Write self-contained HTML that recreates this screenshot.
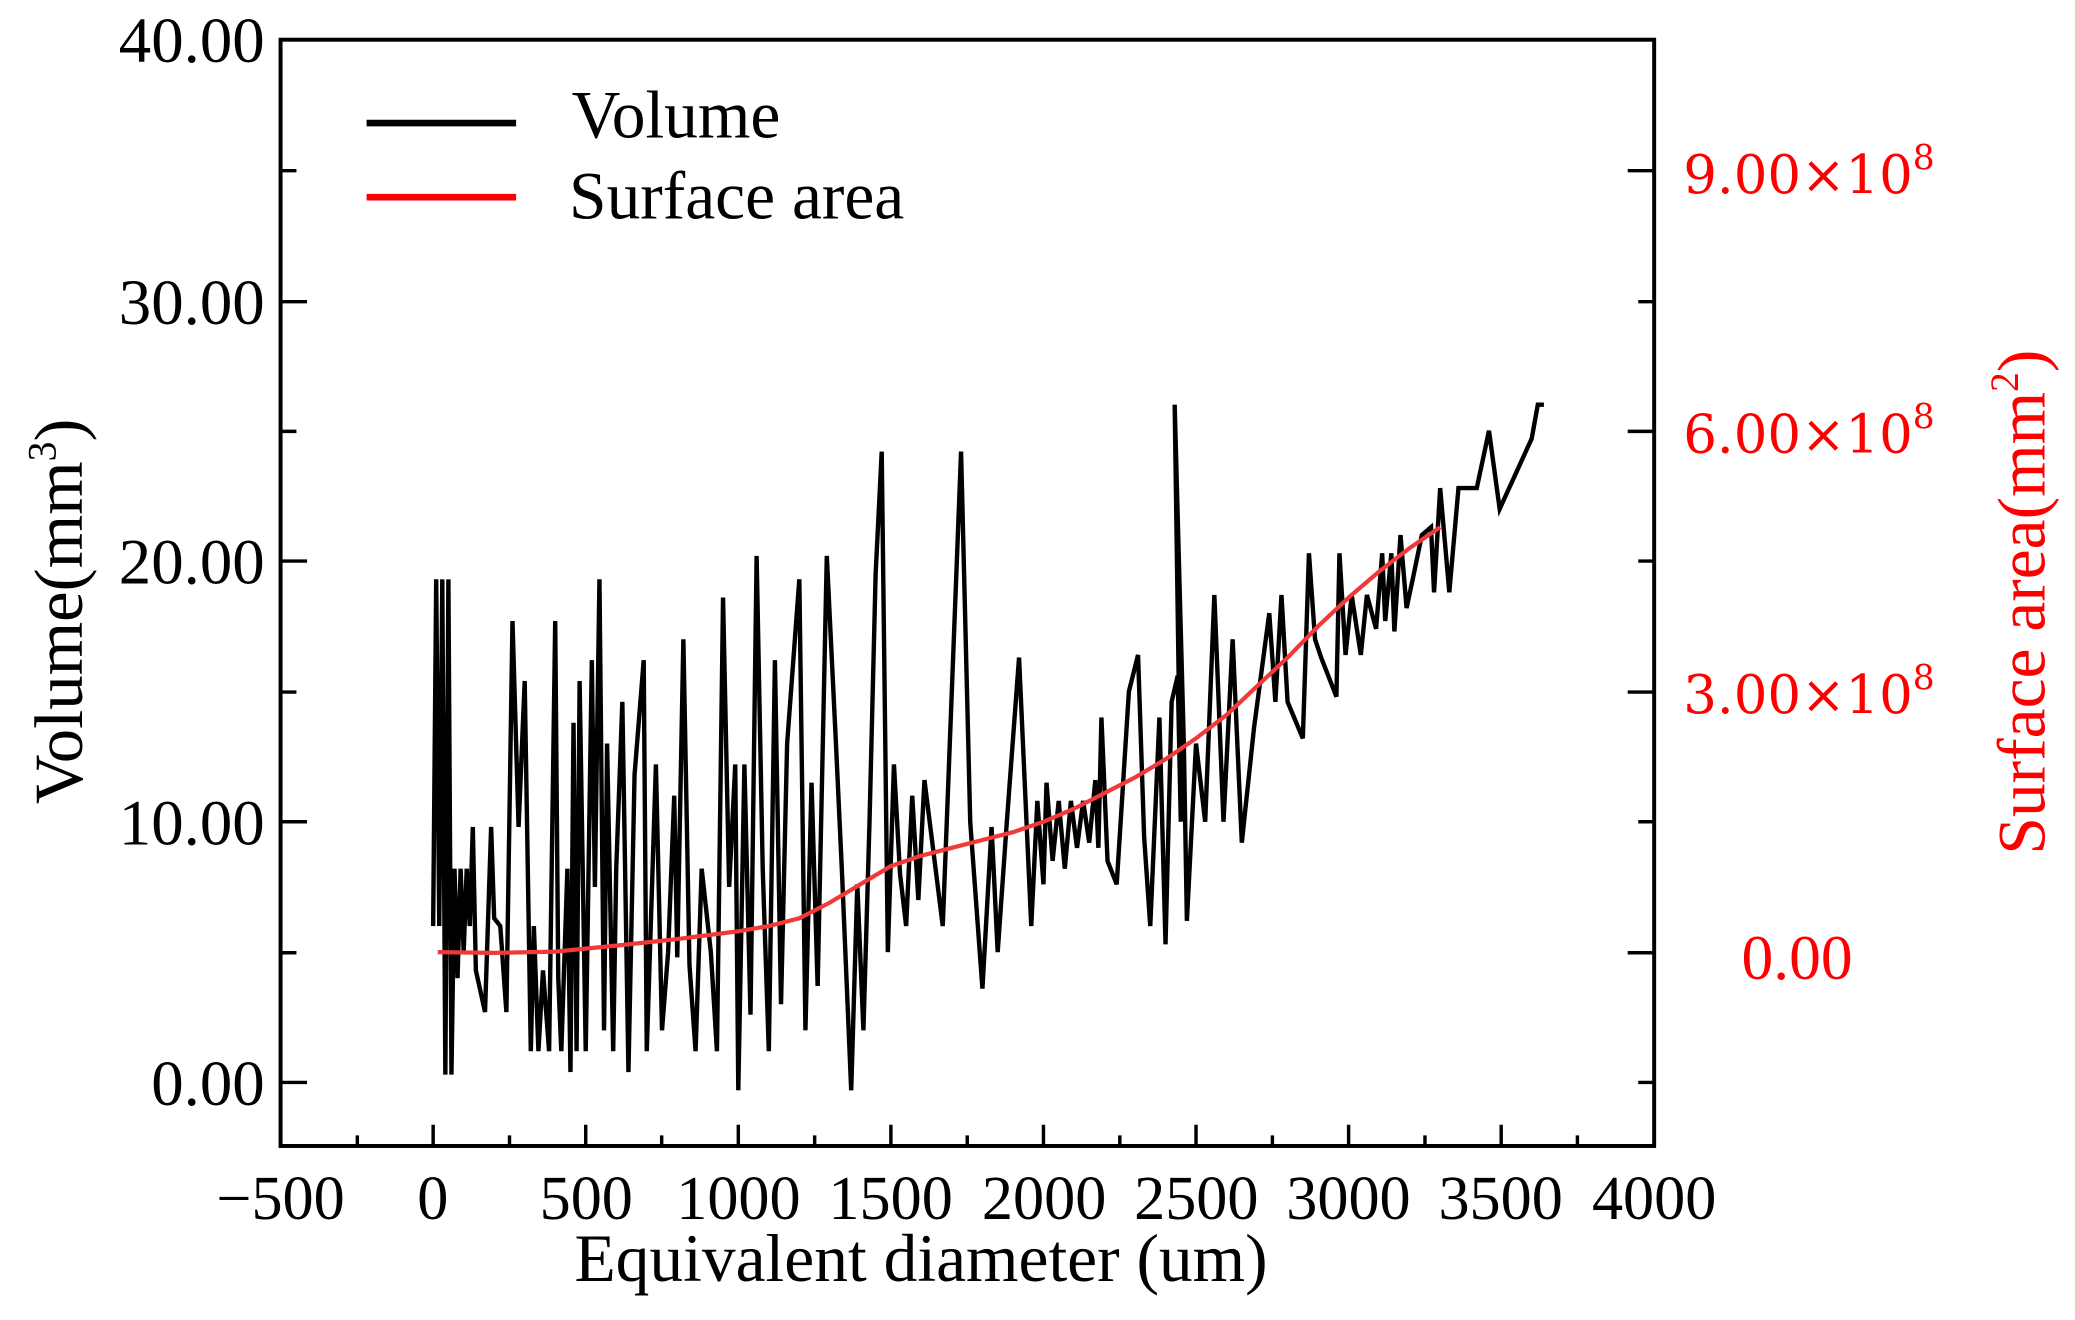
<!DOCTYPE html>
<html><head><meta charset="utf-8"><style>
html,body{margin:0;padding:0;background:#fff;}
svg{display:block;}
</style></head><body>
<svg width="2075" height="1320" viewBox="0 0 1568 997.5" xmlns="http://www.w3.org/2000/svg" font-family="'Liberation Serif', serif">
<rect width="1568" height="997.5" fill="#fff"/>
<g transform="matrix(0.2306 0 0 -19.7 327.3 818)">
<polyline fill="none" stroke="#000" stroke-width="4.4" vector-effect="non-scaling-stroke" stroke-linejoin="miter" points="0,6 10,19.3 20,6 30,19.3 40,0.3 50,19.3 60,0.3 70,8.2 80,4 90,8.2 100,5 110,8.2 120,6 130,9.8 140,4.3 170,2.7 190,9.8 200,6.3 220,6 240,2.7 260,17.7 280,9.8 300,15.4 320,1.2 330,6 345,1.2 360,4.3 380,1.2 400,17.7 410,4 420,1.2 440,8.2 450,0.4 460,13.8 470,1.2 480,15.4 500,1.2 520,16.2 530,7.5 545,19.3 560,2 570,13 590,1.2 600,8.2 620,14.6 640,0.4 660,11.8 690,16.2 700,1.2 730,12.2 750,2 770,5 790,11 800,4.8 820,17 840,4.5 860,1.2 880,8.2 910,5 930,1.2 950,18.6 970,7.5 990,12.2 1000,-0.3 1020,12.2 1040,2.6 1060,20.2 1080,8.2 1100,1.2 1120,16.2 1140,3 1160,13 1200,19.3 1220,2 1240,11.5 1260,3.7 1290,20.2 1320,13 1340,8 1370,-0.3 1390,7.6 1410,2 1430,10 1450,19.5 1470,24.2 1490,5 1510,12.2 1530,8 1550,6 1570,11 1590,7 1610,11.6 1640,8.8 1670,6 1730,24.2 1760,10 1800,3.6 1830,9.8 1850,5 1880,10 1920,16.3 1960,6 1980,10.8 2000,7.6 2010,11.5 2030,8.5 2050,10.8 2070,8.2 2090,10.8 2110,9 2130,10.8 2150,9.2 2170,11.6 2180,9 2190,14 2210,8.5 2240,7.6 2280,15 2310,16.4 2330,9.4 2350,6 2380,14 2400,5.3 2420,14.6 2440,15.6 2450,10 2430,26 2460,13 2470,6.2 2500,13 2530,10 2560,18.7 2590,10 2620,17 2650,9.2 2690,13.6 2740,18 2760,14.6 2780,18.7 2800,14.6 2850,13.2 2870,20.3 2890,17 2910,16.3 2960,14.8 2970,20.3 2990,16.4 3010,18.7 3040,16.4 3060,18.7 3090,17.4 3110,20.3 3120,17.7 3140,20.3 3150,17.3 3170,21 3190,18.2 3210,19.3 3240,21 3270,21.3 3280,18.8 3300,22.8 3330,18.8 3360,22.8 3420,22.8 3460,25 3495,22 3600,24.7 3620,26 3640,26"/>
<polyline fill="none" stroke="#f03a3a" stroke-width="4.2" vector-effect="non-scaling-stroke" points="15,5 200,4.97 400,5.02 600,5.25 800,5.5 1000,5.8 1100,6 1200,6.3 1300,6.9 1400,7.6 1500,8.3 1600,8.7 1700,9.0 1800,9.3 1900,9.6 2000,10 2100,10.5 2200,11.1 2300,11.7 2400,12.4 2500,13.2 2600,14.1 2700,15.2 2800,16.3 2900,17.5 3000,18.6 3100,19.6 3200,20.5 3300,21.3"/>
</g>
<rect x="212" y="30" width="1038" height="836" fill="none" stroke="#000" stroke-width="3"/>
<g stroke="#000" stroke-width="2.6">
<path d="M212 30h20M212 129h12M212 228h20M212 326h12M212 424h20M212 523h12M212 621h20M212 720h12M212 818h20"/>
<path d="M1250 30h-12M1250 129h-20M1250 228h-12M1250 326h-20M1250 424h-12M1250 523h-20M1250 621h-12M1250 720h-20M1250 818h-12"/>
<path d="M270 866v-8M327.3 866v-16M385 866v-8M442.6 866v-16M500 866v-8M557.9 866v-16M615.6 866v-8M673.2 866v-16M730.9 866v-8M788.5 866v-16M846.2 866v-8M903.8 866v-16M961.5 866v-8M1019.1 866v-16M1076.8 866v-8M1134.4 866v-16M1192 866v-8"/>
</g>
<g font-size="49" text-anchor="end" fill="#000">
<text x="200" y="47">40.00</text>
<text x="200" y="245">30.00</text>
<text x="200" y="441">20.00</text>
<text x="200" y="638">10.00</text>
<text x="200" y="835">0.00</text>
</g>
<g font-size="47" text-anchor="middle" fill="#000">
<text x="212" y="921">−500</text>
<text x="327" y="921">0</text>
<text x="443" y="921">500</text>
<text x="558" y="921">1000</text>
<text x="673" y="921">1500</text>
<text x="789" y="921">2000</text>
<text x="904" y="921">2500</text>
<text x="1019" y="921">3000</text>
<text x="1134" y="921">3500</text>
<text x="1250" y="921">4000</text>
</g>
<text x="696" y="968" font-size="51" text-anchor="middle">Equivalent  diameter (um)</text>
<text transform="translate(62,462) rotate(-90)" font-size="52" text-anchor="middle">Volume(mm<tspan font-size="30" dy="-20">3</tspan><tspan dy="20">)</tspan></text>
<g font-size="40" fill="#ff0000" font-family="'DejaVu Serif','Liberation Serif',serif">
<text x="1272" y="146">9.00×10<tspan font-size="26" dy="-18">8</tspan></text>
<text x="1272" y="342">6.00×10<tspan font-size="26" dy="-18">8</tspan></text>
<text x="1272" y="539">3.00×10<tspan font-size="26" dy="-18">8</tspan></text>
</g>
<text x="1316" y="740" font-size="48" fill="#ff0000">0.00</text>
<text transform="translate(1545,455) rotate(-90)" font-size="51" fill="#ff0000" text-anchor="middle">Surface area(mm<tspan font-size="30" dy="-20">2</tspan><tspan dy="20">)</tspan></text>
<line x1="277" y1="93" x2="390" y2="93" stroke="#000" stroke-width="5"/>
<line x1="277" y1="149" x2="390" y2="149" stroke="#ff0000" stroke-width="5"/>
<text x="432" y="104" font-size="51">Volume</text>
<text x="430" y="165" font-size="51">Surface area</text>
</svg>
</body></html>
